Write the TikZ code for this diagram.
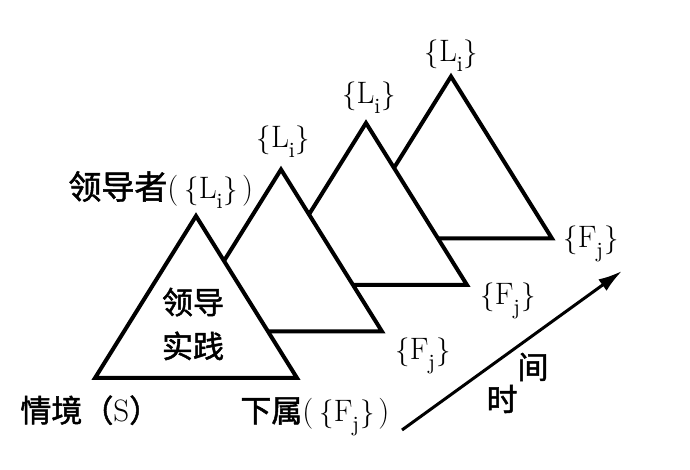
\documentclass[tikz,border=0pt]{standalone}
\usepackage{fontspec}
\usepackage{amsmath}
\usepackage{tikz}
\usetikzlibrary{arrows.meta}
\newfontfamily\cjk{Noto Sans CJK SC}[FakeBold=1.6]

\newcommand{\lset}{$\{\mathrm{L}_{\lower2.5pt\hbox{$\scriptstyle\mathrm{i}$}}\}$}
\newcommand{\fset}{$\{\mathrm{F}_{\lower2.5pt\hbox{$\scriptstyle\mathrm{j}$}}\}$}

\tikzset{tri/.style={line width=2pt,fill=white,line join=miter},
lab/.style={inner sep=0pt,font=\fontsize{15.5}{22}\selectfont}}

\begin{document}
\begin{tikzpicture}[x=0.5pt,y=0.5pt]
\useasboundingbox (0,0) rectangle (690,470);

\coordinate (A) at (196,254);
\coordinate (B) at (281,300.5);
\coordinate (C) at (366,347);
\coordinate (D) at (451,393.5);

% back to front
\filldraw[tri] (D) -- ++(101,-162) -- ++(-202,0) -- cycle;
\filldraw[tri] (C) -- ++(101,-162) -- ++(-202,0) -- cycle;
\filldraw[tri] (B) -- ++(101,-162) -- ++(-202,0) -- cycle;
\filldraw[tri] (A) -- ++(101,-162) -- ++(-202,0) -- cycle;

\node[lab,align=center] (prac) at (193,146) {{\cjk 领导}\\{\cjk 实践}};

\node[lab,anchor=base west] (lead) at (68,271) {{\fontsize{16.5}{20}\cjk 领导者}(\hspace{3pt}\lset\hspace{2pt})};
\node[lab,anchor=base] (L2) at (283.5,322) {\lset};
\node[lab,anchor=base] (L3) at (369,366) {\lset};
\node[lab,anchor=base] (L4) at (451.5,408) {\lset};

\node[lab,anchor=base west] (F2) at (395,110) {\fset};
\node[lab,anchor=base west] (F3) at (480,165) {\fset};
\node[lab,anchor=base west] (F4) at (563,222) {\fset};

\node[lab,anchor=base west] (sit) at (20,48) {{\cjk 情境（}S{\cjk ）}};
\node[lab,anchor=base west] (sub) at (240,48) {{\cjk 下属}(\hspace{3pt}\fset\hspace{2pt})};

\coordinate (t0) at (402,40);
\coordinate (t1) at (622,199);
\draw[line width=1.5pt,-{Latex[length=12pt,width=7pt]}] (t0) -- (t1);

\node[lab] (shi) at (502,71) {\cjk 时};
\node[lab] (jian) at (533,103) {\cjk 间};

\end{tikzpicture}
\end{document}
